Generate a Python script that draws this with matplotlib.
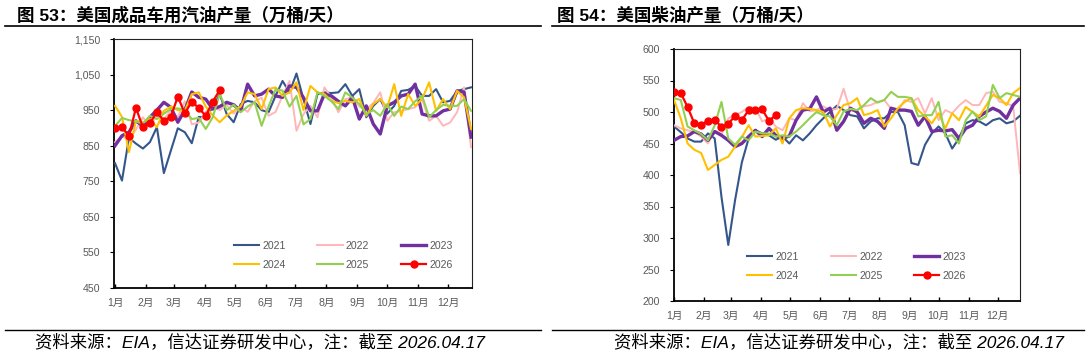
import matplotlib
matplotlib.use("Agg")
import matplotlib.pyplot as plt
from matplotlib.lines import Line2D
from matplotlib.ticker import FuncFormatter

plt.rcParams['font.family'] = ['Liberation Sans', 'Noto Sans CJK SC']

# ---------------- data ----------------
years = ['2021', '2022', '2023', '2024', '2025', '2026']
month_labels = ['1月', '2月', '3月', '4月', '5月', '6月', '7月', '8月', '9月', '10月', '11月', '12月']
month_start_days = [0, 31, 59, 90, 120, 151, 181, 212, 243, 273, 304, 334]

# Gasoline (万桶/天), weekly
gas_2021 = [801, 752, 872, 856, 842, 860, 902, 773, 836, 899, 888, 857, 931, 930, 958, 995,
            939, 916, 967, 976, 972, 950, 944, 990, 1032, 1000, 1053, 981, 911, 995, 1000, 998,
            1000, 1023, 990, 1009, 930, 962, 981, 940, 962, 1004, 1007, 1018, 990, 990, 1009, 972,
            976, 1004, 1009, 1014]
gas_2022 = [860, 875, 868, 895, 930, 905, 935, 925, 948, 930, 975, 910, 915, 945, 960, 950,
            965, 940, 960, 945, 975, 985, 934, 945, 990, 1032, 892, 939, 962, 930, 1014, 985,
            944, 981, 986, 960, 953, 970, 1000, 920, 944, 948, 953, 958, 981, 920, 934, 906,
            915, 944, 1014, 846]
gas_2023 = [850, 878, 888, 920, 905, 930, 950, 972, 958, 916, 950, 1001, 986, 981, 953, 960,
            972, 965, 948, 1023, 990, 995, 1009, 990, 986, 1018, 1014, 985, 948, 948, 995, 990,
            975, 962, 986, 925, 962, 911, 883, 962, 972, 990, 995, 1023, 939, 934, 934, 948,
            953, 1004, 1001, 874]
gas_2024 = [962, 931, 832, 920, 916, 925, 902, 948, 960, 950, 948, 995, 1000, 960, 935, 916,
            935, 948, 960, 1000, 995, 953, 1009, 1014, 990, 1000, 1028, 950, 1018, 1000, 995, 976,
            970, 976, 972, 981, 934, 967, 981, 958, 1023, 934, 995, 962, 981, 1028, 948, 981,
            953, 1004, 986, 897]
gas_2025 = [905, 928, 922, 918, 912, 934, 925, 940, 953, 955, 950, 925, 928, 897, 930, 995,
            950, 965, 944, 960, 972, 906, 960, 1009, 1005, 960, 990, 910, 925, 1000, 990, 975,
            953, 1000, 985, 967, 939, 950, 934, 967, 934, 960, 953, 975, 990, 930, 950, 965,
            962, 962, 981, 948]
gas_2026 = [899, 902, 878, 956, 902, 914, 944, 920, 932, 988, 941, 974, 956, 934, 974, 1006]

# Diesel (万桶/天), weekly
dsl_2021 = [477, 468, 458, 453, 453, 466, 458, 365, 289, 360, 420, 458, 471, 466, 463, 456,
            461, 450, 463, 455, 466, 479, 490, 500, 510, 503, 495, 493, 474, 485, 490, 490,
            500, 500, 479, 419, 416, 448, 466, 477, 466, 442, 458, 482, 487, 485, 479, 487,
            490, 482, 485, 494]
dsl_2022 = [479, 474, 471, 468, 461, 450, 470, 465, 490, 495, 500, 508, 506, 485, 490, 477,
            471, 490, 487, 514, 501, 503, 509, 503, 505, 537, 501, 503, 509, 511, 516, 519,
            505, 501, 519, 516, 522, 498, 522, 487, 503, 498, 510, 519, 511, 511, 530, 532,
            516, 514, 509, 403]
dsl_2023 = [455, 461, 462, 469, 465, 455, 469, 463, 455, 445, 450, 461, 471, 461, 474, 463,
            458, 462, 487, 503, 505, 524, 500, 506, 471, 485, 506, 500, 482, 490, 485, 474,
            506, 503, 503, 501, 479, 493, 469, 471, 470, 472, 458, 474, 479, 493, 500, 506,
            501, 490, 511, 522]
dsl_2024 = [519, 490, 450, 440, 435, 408, 416, 424, 429, 445, 460, 479, 461, 462, 463, 474,
            450, 490, 503, 506, 505, 503, 500, 477, 495, 511, 514, 522, 495, 498, 503, 477,
            490, 506, 516, 522, 503, 493, 482, 498, 474, 498, 487, 508, 500, 493, 510, 527,
            522, 511, 530, 538]
dsl_2025 = [522, 519, 477, 471, 465, 455, 479, 516, 458, 448, 461, 455, 469, 466, 466, 461,
            463, 461, 469, 479, 490, 500, 495, 493, 479, 501, 505, 503, 511, 522, 515, 519,
            532, 524, 524, 522, 493, 495, 495, 516, 461, 463, 450, 487, 501, 487, 493, 543,
            522, 530, 527, 524]
dsl_2026 = [531, 530, 508, 482, 480, 486, 488, 476, 481, 494, 487, 503, 503, 504, 486, 495]

gas_series = [gas_2021, gas_2022, gas_2023, gas_2024, gas_2025, gas_2026]
dsl_series = [dsl_2021, dsl_2022, dsl_2023, dsl_2024, dsl_2025, dsl_2026]

colors = ['#34568B', '#FFB6B9', '#7030A0', '#FFC000', '#92D050', '#FF0000']
widths = [1.5, 1.4, 2.4, 1.5, 1.5, 1.6]

title_left = '图 53：美国成品车用汽油产量（万桶/天）'
title_right = '图 54：美国柴油产量（万桶/天）'
footer = '资料来源：EIA，信达证券研发中心，注：截至 2026.04.17'

W, H = 1088, 355
fig = plt.figure(figsize=(W / 100, H / 100), dpi=100)

gray = '#595959'


def draw(ax, series, ylim, ystep, yfmt, xlim, leg_anchor):
    handles = []
    for i, (yr, vals) in enumerate(zip(years, series)):
        xs = [7 * k for k in range(len(vals))]
        if yr == '2026':
            h, = ax.plot(xs, vals, color=colors[i], lw=widths[i], marker='o',
                         markersize=5, zorder=10, label=yr)
        else:
            h, = ax.plot(xs, vals, color=colors[i], lw=widths[i], zorder=3 + i, label=yr)
        handles.append(h)
    ax.set_xlim(*xlim)
    ax.set_ylim(*ylim)
    ax.set_yticks(list(range(ylim[0], ylim[1] + 1, ystep)))
    ax.yaxis.set_major_formatter(FuncFormatter(yfmt))
    ax.set_xticks(month_start_days)
    ax.set_xticklabels(month_labels)
    ax.tick_params(axis='y', direction='out', length=3, width=0.8, colors='black',
                   labelcolor=gray, labelsize=7.6, pad=7)
    ax.tick_params(axis='x', direction='in', length=3, width=1.0, colors='black',
                   labelcolor=gray, labelsize=7.6, pad=7)
    for s in ['top', 'right']:
        ax.spines[s].set_linewidth(0.8)
        ax.spines[s].set_color('#222222')
    for s in ['left', 'bottom']:
        ax.spines[s].set_linewidth(1.3)
        ax.spines[s].set_color('black')
    order = [0, 3, 1, 4, 2, 5]
    leg = ax.legend([handles[i] for i in order], [years[i] for i in order], ncol=3,
                    loc='upper left', bbox_to_anchor=leg_anchor, frameon=False,
                    fontsize=7.6, handlelength=2.4, handletextpad=0.3,
                    columnspacing=3.0, labelspacing=0.85, borderpad=0, borderaxespad=0)
    for t in leg.get_texts():
        t.set_color(gray)


ax1 = fig.add_axes([114 / W, 1 - 288 / H, 358 / W, 249 / H])
draw(ax1, gas_series, (450, 1150), 100, lambda v, p: f'{int(v):,}', (-1, 358),
     (0.335, 0.19))

ax2 = fig.add_axes([674 / W, 1 - 301 / H, 346 / W, 252 / H])
draw(ax2, dsl_series, (200, 600), 50, lambda v, p: f'{int(v)}', (0, 357),
     (0.211, 0.195))

# titles
fig.text(17 / W, 1 - 15 / H, title_left, fontsize=12.6, fontweight='bold', va='center')
fig.text(557 / W, 1 - 15 / H, title_right, fontsize=12.6, fontweight='bold', va='center')

# rules
for x0, x1 in [(5, 541), (552, 1084)]:
    fig.add_artist(Line2D([x0 / W, x1 / W], [1 - 26 / H] * 2, color='black', lw=1.2))
    fig.add_artist(Line2D([x0 / W, x1 / W], [1 - 330 / H] * 2, color='black', lw=1.0))

# footers
fig.text(35 / W, 1 - 342 / H, footer, fontsize=12.5, style='italic', va='center')
fig.text(614 / W, 1 - 342 / H, footer, fontsize=12.5, style='italic', va='center')

fig.savefig('out.png', dpi=100)
